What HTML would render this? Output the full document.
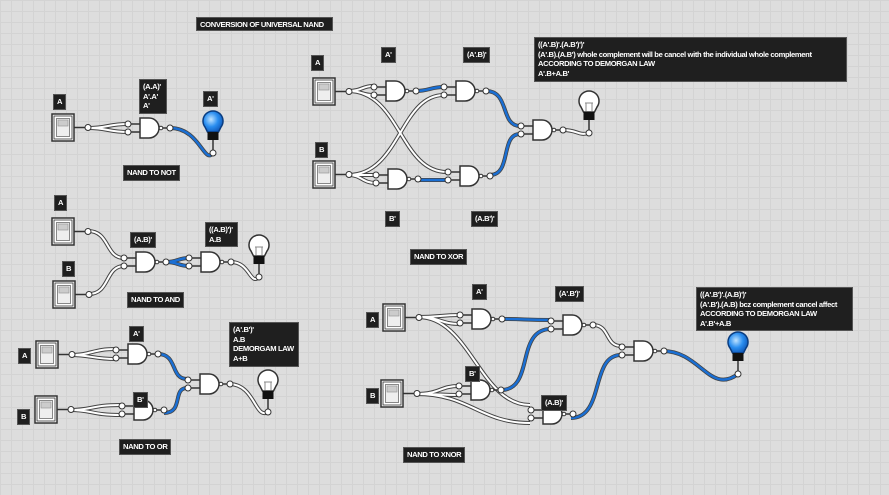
<!DOCTYPE html>
<html><head><meta charset="utf-8"><style>
html,body{margin:0;padding:0}
body{width:889px;height:495px;overflow:hidden;position:relative;background-color:#dddddd;
background-image:linear-gradient(#d3d3d3 1px,transparent 1px),linear-gradient(90deg,#d3d3d3 1px,transparent 1px);background-size:11px 11px;font-family:"Liberation Sans",sans-serif}
svg{position:absolute;left:0;top:0}
.l{position:absolute;background:#1f1f1f;color:#fff;font-weight:bold;font-size:7.6px;line-height:9.5px;padding:2px 3px;box-sizing:border-box;white-space:nowrap;letter-spacing:-0.35px;border:1px solid #555;overflow:hidden}
.o{fill:none;stroke:#444;stroke-width:4}
.i{fill:none;stroke:#fff;stroke-width:2}
.b{fill:none;stroke:#1a6fd4;stroke-width:2.4}
</style></head><body>
<svg width="889" height="495" viewBox="0 0 889 495">
<defs>
<g id="g">
<line x1="-12" y1="-4" x2="0" y2="-4" stroke="#333" stroke-width="1.5"/>
<line x1="-12" y1="4" x2="0" y2="4" stroke="#333" stroke-width="1.5"/>
<circle cx="-12" cy="-4" r="3" fill="#fff" stroke="#333"/>
<circle cx="-12" cy="4" r="3" fill="#fff" stroke="#333"/>
<path d="M0,-10H9A10,10 0 0 1 9,10H0Z" fill="#fff" stroke="#333" stroke-width="1.5"/>
<circle cx="21" cy="0" r="1.8" fill="#fff" stroke="#333"/>
<line x1="23" y1="0" x2="27" y2="0" stroke="#333" stroke-width="1.5"/>
<circle cx="30" cy="0" r="3" fill="#fff" stroke="#333"/>
</g>
<g id="s">
<rect x="0" y="0" width="22" height="27" fill="#fff" stroke="#333" stroke-width="1.5"/>
<rect x="2" y="2" width="18" height="23" fill="none" stroke="#333" stroke-width="0.8"/>
<rect x="4.5" y="4.5" width="13" height="18" fill="#eee" stroke="#888"/>
<rect x="6" y="6" width="10" height="6" fill="#ccc" stroke="#999" stroke-width="0.7"/>
<line x1="22" y1="13.5" x2="36" y2="13.5" stroke="#333" stroke-width="1.5"/>
<circle cx="36" cy="13.5" r="3" fill="#fff" stroke="#333"/>
</g>
<radialGradient id="bg" cx="0.4" cy="0.4" r="0.7"><stop offset="0" stop-color="#bfe3ff"/><stop offset="0.5" stop-color="#2a8ef0"/><stop offset="1" stop-color="#0a4fb0"/></radialGradient>
<g id="bw">
<path d="M-8,4A10,10 0 1 1 8,4L5.5,9H-5.5Z" fill="#fff" stroke="#333" stroke-width="1.5"/>
<path d="M-3,8L-3,0M3,8L3,0M-4,0H4" stroke="#888" fill="none"/>
<rect x="-5.5" y="9" width="11" height="8" fill="#111"/>
<line x1="0" y1="17" x2="0" y2="30" stroke="#333" stroke-width="1.5"/>
<circle cx="0" cy="30" r="3" fill="#fff" stroke="#333"/>
</g>
<g id="bb">
<path d="M-8,4A10,10 0 1 1 8,4L5.5,9H-5.5Z" fill="url(#bg)" stroke="#0b3d80" stroke-width="1.5"/>
<rect x="-5.5" y="9" width="11" height="8" fill="#111"/>
<line x1="0" y1="17" x2="0" y2="30" stroke="#333" stroke-width="1.5"/>
<circle cx="0" cy="30" r="3" fill="#fff" stroke="#333"/>
</g>
</defs>

<!-- NOT -->
<path class="o" d="M88,128C108,128 108,124 128,124M88,128C108,128 108,132 128,132"/>
<path class="i" d="M88,128C108,128 108,124 128,124M88,128C108,128 108,132 128,132"/>
<path class="o" d="M170,128C200,128 204,165 213,153"/>
<path class="b" d="M170,128C200,128 204,165 213,153"/>
<use href="#s" x="52" y="114"/>
<use href="#g" x="140" y="128"/>
<use href="#bb" x="213" y="123"/>

<!-- AND -->
<path class="o" d="M88,231C110,231 105,258 124,258M89,294C110,294 105,266 124,266"/>
<path class="i" d="M88,231C110,231 105,258 124,258M89,294C110,294 105,266 124,266"/>
<path class="o" d="M166,262C178,262 178,258 189,258M166,262C178,262 178,266 189,266"/>
<path class="b" d="M166,262C178,262 178,258 189,258M166,262C178,262 178,266 189,266"/>
<path class="o" d="M231,262C250,262 250,286 259,277"/>
<path class="i" d="M231,262C250,262 250,286 259,277"/>
<use href="#s" x="52" y="218"/>
<use href="#s" x="53" y="281"/>
<use href="#g" x="136" y="262"/>
<use href="#g" x="201" y="262"/>
<use href="#bw" x="259" y="247"/>

<!-- OR -->
<path class="o" d="M70,355C92,355 92,349 116,349M70,355C92,355 92,359 116,359M70,410C92,410 92,405 120,405M70,410C92,410 92,415 120,415"/>
<path class="i" d="M70,355C92,355 92,349 116,349M70,355C92,355 92,359 116,359M70,410C92,410 92,405 120,405M70,410C92,410 92,415 120,415"/>
<path class="o" d="M158,354C178,354 170,379 187,379M164,413C184,413 172,388 187,388"/>
<path class="b" d="M158,354C178,354 170,379 187,379M164,413C184,413 172,388 187,388"/>
<path class="o" d="M229,384C255,384 255,420 268,412"/>
<path class="i" d="M229,384C255,384 255,420 268,412"/>
<use href="#s" x="36" y="341"/>
<use href="#s" x="35" y="396"/>
<use href="#g" x="128" y="354"/>
<use href="#g" x="134" y="410"/>
<use href="#g" x="200" y="384"/>
<use href="#bw" x="268" y="382"/>

<!-- XOR -->
<path class="o" d="M348,91C362,91 362,86 373,86M348,91C362,91 362,95 373,95M348,91C400,91 400,172 447,172M348,175C362,175 362,175 376,175M348,175C362,175 362,183 376,183M348,175C400,175 400,95 444,95"/>
<path class="i" d="M348,91C362,91 362,86 373,86M348,91C362,91 362,95 373,95M348,91C400,91 400,172 447,172M348,175C362,175 362,175 376,175M348,175C362,175 362,183 376,183M348,175C400,175 400,95 444,95"/>
<path class="o" d="M415,91C430,91 430,87 444,87M418,180C432,180 432,180 447,180M486,91C510,91 500,126 520,126M490,175C512,175 500,134 520,134"/>
<path class="b" d="M415,91C430,91 430,87 444,87M418,180C432,180 432,180 447,180M486,91C510,91 500,126 520,126M490,175C512,175 500,134 520,134"/>
<path class="o" d="M563,130C578,130 578,136 589,133"/>
<path class="i" d="M563,130C578,130 578,136 589,133"/>
<use href="#s" x="313" y="78"/>
<use href="#s" x="313" y="161"/>
<use href="#g" x="386" y="91"/>
<use href="#g" x="388" y="179"/>
<use href="#g" x="456" y="91"/>
<use href="#g" x="460" y="176"/>
<use href="#g" x="533" y="130"/>
<use href="#bw" x="589" y="103"/>

<!-- XNOR -->
<path class="o" d="M418,317C440,317 440,315 460,315M418,317C440,317 440,324 460,324M418,317C470,317 480,405 530,405M416,394C440,394 440,386 459,386M416,394C440,394 440,395 459,395M416,394C470,394 480,423 530,423"/>
<path class="i" d="M418,317C440,317 440,315 460,315M418,317C440,317 440,324 460,324M418,317C470,317 480,405 530,405M416,394C440,394 440,386 459,386M416,394C440,394 440,395 459,395M416,394C470,394 480,423 530,423"/>
<path class="o" d="M502,319C525,319 525,320 551,320M501,390C535,390 515,329 551,329M571,418C605,418 590,355 621,355M663,351C700,351 710,395 738,374"/>
<path class="b" d="M502,319C525,319 525,320 551,320M501,390C535,390 515,329 551,329M571,418C605,418 590,355 621,355M663,351C700,351 710,395 738,374"/>
<path class="o" d="M593,325C610,325 605,346 621,346"/>
<path class="i" d="M593,325C610,325 605,346 621,346"/>
<use href="#s" x="383" y="304"/>
<use href="#s" x="381" y="380"/>
<use href="#g" x="472" y="319"/>
<use href="#g" x="471" y="390"/>
<use href="#g" x="563" y="325"/>
<use href="#g" x="543" y="414"/>
<use href="#g" x="634" y="351"/>
<use href="#bb" x="738" y="344"/>
</svg>

<div class="l" style="left:196px;top:17px;width:137px;height:14px">CONVERSION OF UNIVERSAL NAND</div>
<div class="l" style="left:53px;top:94px">A</div>
<div class="l" style="left:139px;top:79px;width:28px">(A.A)'<br>A'.A'<br>A'</div>
<div class="l" style="left:203px;top:91px">A'</div>
<div class="l" style="left:123px;top:165px">NAND TO NOT</div>

<div class="l" style="left:54px;top:195px">A</div>
<div class="l" style="left:62px;top:261px">B</div>
<div class="l" style="left:130px;top:232px">(A.B)'</div>
<div class="l" style="left:205px;top:222px;width:33px">((A.B)')'<br>A.B</div>
<div class="l" style="left:127px;top:292px">NAND TO AND</div>

<div class="l" style="left:18px;top:348px">A</div>
<div class="l" style="left:17px;top:409px">B</div>
<div class="l" style="left:129px;top:326px">A'</div>
<div class="l" style="left:133px;top:392px">B'</div>
<div class="l" style="left:229px;top:322px;width:70px;height:45px">(A'.B')'<br>A.B<br>DEMORGAM LAW<br>A+B</div>
<div class="l" style="left:119px;top:439px">NAND TO OR</div>

<div class="l" style="left:311px;top:55px">A</div>
<div class="l" style="left:315px;top:142px">B</div>
<div class="l" style="left:381px;top:47px">A'</div>
<div class="l" style="left:463px;top:47px">(A'.B)'</div>
<div class="l" style="left:385px;top:211px">B'</div>
<div class="l" style="left:471px;top:211px">(A.B')'</div>
<div class="l" style="left:410px;top:249px">NAND TO XOR</div>
<div class="l" style="left:534px;top:37px;width:313px;height:45px">((A'.B)'.(A.B')')'<br>(A'.B).(A.B') whole complement will be cancel with the individual whole complement<br>ACCORDING TO DEMORGAN LAW<br>A'.B+A.B'</div>

<div class="l" style="left:366px;top:312px">A</div>
<div class="l" style="left:366px;top:388px">B</div>
<div class="l" style="left:472px;top:284px">A'</div>
<div class="l" style="left:555px;top:286px">(A'.B')'</div>
<div class="l" style="left:465px;top:366px">B'</div>
<div class="l" style="left:541px;top:395px">(A.B)'</div>
<div class="l" style="left:696px;top:287px;width:157px;height:44px">((A'.B')'.(A.B)')'<br>(A'.B').(A.B) bcz complement cancel affect<br>ACCORDING TO DEMORGAN LAW<br>A'.B'+A.B</div>
<div class="l" style="left:403px;top:447px">NAND TO XNOR</div>
</body></html>
